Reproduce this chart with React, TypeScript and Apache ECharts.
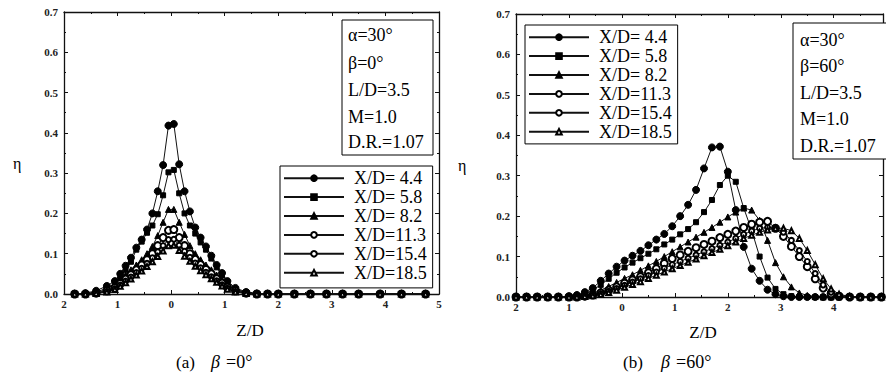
import React, { useEffect, useRef } from "react";
import * as echarts from "echarts";

const FONT = "'Liberation Serif', 'Times New Roman', serif";

const seriesNames = ["X/D= 4.4", "X/D= 5.8", "X/D= 8.2", "X/D=11.3", "X/D=15.4", "X/D=18.5"];
const seriesSymbols = ["circle", "rect", "triangle", "emptyCircle", "emptyCircle", "emptyTriangle"];
const seriesSymbolSizes = [7, 5, 6, 7, 5, 5];

// (a) beta = 0 deg
const zLeft = [-1.8, -1.6, -1.4, -1.2, -1.05, -0.95, -0.85, -0.75, -0.65, -0.55, -0.45, -0.35, -0.25, -0.15, -0.05,
  0.05, 0.15, 0.25, 0.35, 0.45, 0.55, 0.65, 0.75, 0.85, 0.95, 1.05, 1.2, 1.4, 1.6, 1.8, 2.0, 2.3, 2.6, 2.9, 3.2, 3.5, 3.9, 4.3, 4.75];
const etaLeft44 = [0, 0.002, 0.008, 0.02, 0.032, 0.05, 0.07, 0.09, 0.115, 0.135, 0.16, 0.2, 0.255, 0.32, 0.418,
  0.422, 0.322, 0.255, 0.205, 0.165, 0.14, 0.118, 0.095, 0.072, 0.052, 0.032, 0.015, 0.005, 0.001, 0, 0, 0, 0, 0, 0, 0, 0, 0, 0];
const etaLeft58 = [0, 0.001, 0.005, 0.014, 0.026, 0.042, 0.06, 0.08, 0.11, 0.13, 0.152, 0.17, 0.198, 0.245, 0.302,
  0.308, 0.25, 0.2, 0.17, 0.15, 0.128, 0.11, 0.088, 0.066, 0.046, 0.028, 0.012, 0.004, 0.001, 0, 0, 0, 0, 0, 0, 0, 0, 0, 0];
const etaLeft82 = [0, 0, 0.003, 0.01, 0.02, 0.033, 0.047, 0.06, 0.072, 0.085, 0.1, 0.118, 0.145, 0.178, 0.21,
  0.21, 0.178, 0.148, 0.12, 0.1, 0.085, 0.072, 0.06, 0.047, 0.034, 0.022, 0.01, 0.003, 0, 0, 0, 0, 0, 0, 0, 0, 0, 0, 0];
const etaLeft113 = [0, 0, 0.002, 0.008, 0.016, 0.026, 0.037, 0.048, 0.06, 0.072, 0.085, 0.1, 0.12, 0.14, 0.158,
  0.16, 0.14, 0.12, 0.1, 0.086, 0.073, 0.061, 0.05, 0.038, 0.027, 0.017, 0.008, 0.002, 0, 0, 0, 0, 0, 0, 0, 0, 0, 0, 0];
const etaLeft154 = [0, 0, 0.002, 0.006, 0.013, 0.022, 0.032, 0.042, 0.053, 0.064, 0.076, 0.09, 0.105, 0.12, 0.135,
  0.136, 0.121, 0.106, 0.091, 0.077, 0.065, 0.054, 0.043, 0.033, 0.023, 0.014, 0.006, 0.002, 0, 0, 0, 0, 0, 0, 0, 0, 0, 0, 0];
const etaLeft185 = [0, 0, 0.001, 0.005, 0.011, 0.019, 0.028, 0.037, 0.047, 0.057, 0.068, 0.08, 0.093, 0.107, 0.12,
  0.121, 0.108, 0.094, 0.081, 0.069, 0.058, 0.048, 0.038, 0.029, 0.02, 0.012, 0.005, 0.001, 0, 0, 0, 0, 0, 0, 0, 0, 0, 0, 0];

// (b) beta = 60 deg
const zRight = [-2.0, -1.8, -1.6, -1.4, -1.2, -1.0, -0.85, -0.7, -0.55, -0.4, -0.25, -0.1, 0.05, 0.2, 0.35, 0.5, 0.65,
  0.8, 0.95, 1.1, 1.25, 1.4, 1.55, 1.7, 1.85, 2.0, 2.15, 2.3, 2.45, 2.6, 2.75, 2.9, 3.05, 3.2, 3.35, 3.5, 3.65, 3.8,
  3.95, 4.1, 4.3, 4.5, 4.7, 4.9];
const etaRight44 = [0, 0, 0, 0, 0, 0.002, 0.005, 0.012, 0.022, 0.04, 0.058, 0.075, 0.09, 0.102, 0.114, 0.128, 0.142,
  0.156, 0.175, 0.2, 0.228, 0.265, 0.318, 0.37, 0.372, 0.31, 0.215, 0.124, 0.07, 0.04, 0.018, 0.007, 0.002, 0, 0, 0,
  0, 0, 0, 0, 0, 0, 0, 0];
const etaRight58 = [0, 0, 0, 0, 0, 0, 0.003, 0.008, 0.017, 0.03, 0.045, 0.06, 0.073, 0.085, 0.096, 0.107, 0.118,
  0.13, 0.142, 0.155, 0.168, 0.185, 0.21, 0.24, 0.277, 0.3, 0.285, 0.22, 0.165, 0.1, 0.048, 0.02, 0.007, 0.002, 0, 0,
  0, 0, 0, 0, 0, 0, 0, 0];
const etaRight82 = [0, 0, 0, 0, 0, 0, 0.001, 0.004, 0.009, 0.017, 0.026, 0.036, 0.046, 0.055, 0.066, 0.077, 0.088,
  0.1, 0.112, 0.124, 0.136, 0.148, 0.16, 0.172, 0.185, 0.198, 0.21, 0.22, 0.215, 0.19, 0.14, 0.085, 0.05, 0.025, 0.01,
  0.004, 0.001, 0, 0, 0, 0, 0, 0, 0];
const etaRight113 = [0, 0, 0, 0, 0, 0, 0, 0.002, 0.005, 0.01, 0.017, 0.025, 0.034, 0.042, 0.05, 0.06, 0.07, 0.083,
  0.095, 0.104, 0.113, 0.122, 0.13, 0.138, 0.147, 0.155, 0.163, 0.172, 0.18, 0.185, 0.187, 0.17, 0.15, 0.125, 0.1,
  0.075, 0.045, 0.022, 0.008, 0.002, 0, 0, 0, 0];
const etaRight154 = [0, 0, 0, 0, 0, 0, 0, 0.001, 0.004, 0.008, 0.014, 0.021, 0.029, 0.037, 0.045, 0.053, 0.062,
  0.071, 0.08, 0.088, 0.096, 0.104, 0.112, 0.12, 0.128, 0.136, 0.145, 0.155, 0.163, 0.17, 0.172, 0.17, 0.16, 0.14,
  0.115, 0.088, 0.058, 0.03, 0.012, 0.004, 0.001, 0, 0, 0];
const etaRight185 = [0, 0, 0, 0, 0, 0, 0, 0.001, 0.003, 0.006, 0.011, 0.017, 0.024, 0.031, 0.038, 0.046, 0.054,
  0.062, 0.07, 0.078, 0.086, 0.094, 0.102, 0.11, 0.118, 0.127, 0.136, 0.145, 0.153, 0.16, 0.166, 0.17, 0.17, 0.164,
  0.145, 0.115, 0.08, 0.045, 0.02, 0.007, 0.001, 0, 0, 0];

const paramsLeft = ["α=30°", "β=0°", "L/D=3.5", "M=1.0", "D.R.=1.07"];
const paramsRight = ["α=30°", "β=60°", "L/D=3.5", "M=1.0", "D.R.=1.07"];
const yTickFormat = (v: number) => v.toFixed(1);
const xTickFormat = (v: number) => (Math.abs(v - Math.round(v)) < 1e-6 ? String(Math.abs(Math.round(v))) : "");

const leftEtas = [etaLeft44, etaLeft58, etaLeft82, etaLeft113, etaLeft154, etaLeft185];
const rightEtas = [etaRight44, etaRight58, etaRight82, etaRight113, etaRight154, etaRight185];

const INK = "#111";

function xAxisDef(grid: number, pos: "top" | "bottom", labels: boolean, max: number) {
  return {
    type: "value", gridIndex: grid, position: pos, min: -2, max, interval: 1,
    axisLine: { show: true, onZero: false, lineStyle: { color: INK, width: 1.3 } },
    axisTick: { show: true, inside: true, length: 4, lineStyle: { color: INK } },
    minorTick: { show: true, splitNumber: 2, length: 2, lineStyle: { color: INK } },
    splitLine: { show: false }, minorSplitLine: { show: false },
    axisLabel: { show: labels, margin: 4, fontFamily: FONT, fontSize: 11, fontWeight: "bold", color: "#222", formatter: xTickFormat, showMaxLabel: true },
  };
}
function yAxisDef(grid: number, pos: "left" | "right", labels: boolean) {
  return {
    type: "value", gridIndex: grid, position: pos, min: 0, max: 0.7, interval: 0.1,
    axisLine: { show: true, onZero: false, lineStyle: { color: INK, width: 1.3 } },
    axisTick: { show: true, inside: true, length: 4, lineStyle: { color: INK } },
    minorTick: { show: true, splitNumber: 2, length: 2, lineStyle: { color: INK } },
    splitLine: { show: false }, minorSplitLine: { show: false },
    axisLabel: { show: labels, margin: 6, fontFamily: FONT, fontSize: 11, fontWeight: "bold", color: "#222", formatter: yTickFormat },
  };
}

function makeSeries(panel: number, z: number[], etas: number[][]) {
  return etas.map((eta, i) => ({
    type: "line",
    name: seriesNames[i],
    xAxisIndex: panel * 2,
    yAxisIndex: panel * 2,
    data: z.map((zz, k) => [zz, eta[k]]),
    symbol: seriesSymbols[i],
    symbolSize: seriesSymbolSizes[i],
    showSymbol: true,
    showAllSymbol: true,
    clip: false,
    lineStyle: { color: INK, width: 1 },
    itemStyle: { color: "#000", borderColor: "#000", borderWidth: 1 },
    emphasis: { disabled: true },
  }));
}

function legendDef(left: number, top: number, padding: number[]) {
  return {
    data: seriesNames,
    left, top,
    orient: "vertical",
    itemWidth: 60,
    itemHeight: 7,
    itemGap: 0.5,
    selectedMode: false,
    borderColor: "#000",
    borderWidth: 1,
    padding,
    textStyle: { fontFamily: FONT, fontSize: 18, color: "#000", lineHeight: 18.4, padding: [0, 0, 0, 5] },
  };
}

function text(x: number, y: number, t: string, size: number, extra: any = {}) {
  return {
    type: "text", x, y, silent: true,
    style: { text: t, fontFamily: FONT, fontSize: size, fill: "#000", verticalAlign: "middle", align: "left", ...extra },
  };
}

function paramBox(x: number, y: number, w: number, h: number, tx: number, ys: number[], lines: string[]) {
  return [
    { type: "rect", shape: { x, y, width: w, height: h }, style: { fill: "#fff", stroke: "#000", lineWidth: 1 }, z: 50 },
    ...lines.map((l, i) => ({ ...text(tx, ys[i], l, 18), z: 51 })),
  ];
}

export default function App() {
  const ref = useRef<HTMLDivElement>(null);
  useEffect(() => {
    const chart = echarts.init(ref.current!, null, { renderer: "svg" });
    const option: any = {
      animation: false,
      backgroundColor: "#fff",
      grid: [
        { left: 64, top: 12, width: 375, height: 282 },
        { left: 516, top: 14, width: 369, height: 283 },
      ],
      xAxis: [
        xAxisDef(0, "bottom", true, 5),
        xAxisDef(0, "top", false, 5),
        xAxisDef(1, "bottom", true, 4.93),
        xAxisDef(1, "top", false, 4.93),
      ],
      yAxis: [
        yAxisDef(0, "left", true),
        yAxisDef(0, "right", false),
        yAxisDef(1, "left", true),
        yAxisDef(1, "right", false),
      ],
      legend: [legendDef(280, 166, [3, 6, 6, 3]), legendDef(525, 25, [3, 6, 3, 3])],
      series: [...makeSeries(0, zLeft, leftEtas), ...makeSeries(1, zRight, rightEtas)],
      graphic: [
        ...paramBox(342, 20, 91, 135, 348, [35, 63, 90, 117, 142], paramsLeft),
        ...paramBox(793, 23, 94, 136, 800, [40, 66, 93, 119, 146], paramsRight),
        text(13, 163, "η", 16),
        text(458, 165, "η", 16),
        text(250, 330, "Z/D", 17, { align: "center" }),
        text(703, 332, "Z/D", 17, { align: "center" }),
        text(176, 362, "(a)", 17),
        text(211, 362, "β", 18, { fontStyle: "italic" }),
        text(226, 362, "=0°", 18),
        text(623, 362, "(b)", 17),
        text(661, 362, "β", 18, { fontStyle: "italic" }),
        text(676, 362, "=60°", 18),
      ],
    };
    chart.setOption(option);
    return () => chart.dispose();
  }, []);
  return (
    <div
      ref={ref}
      style={{ position: "absolute", left: 0, top: 0, width: 886, height: 376, background: "#fff" }}
    />
  );
}
